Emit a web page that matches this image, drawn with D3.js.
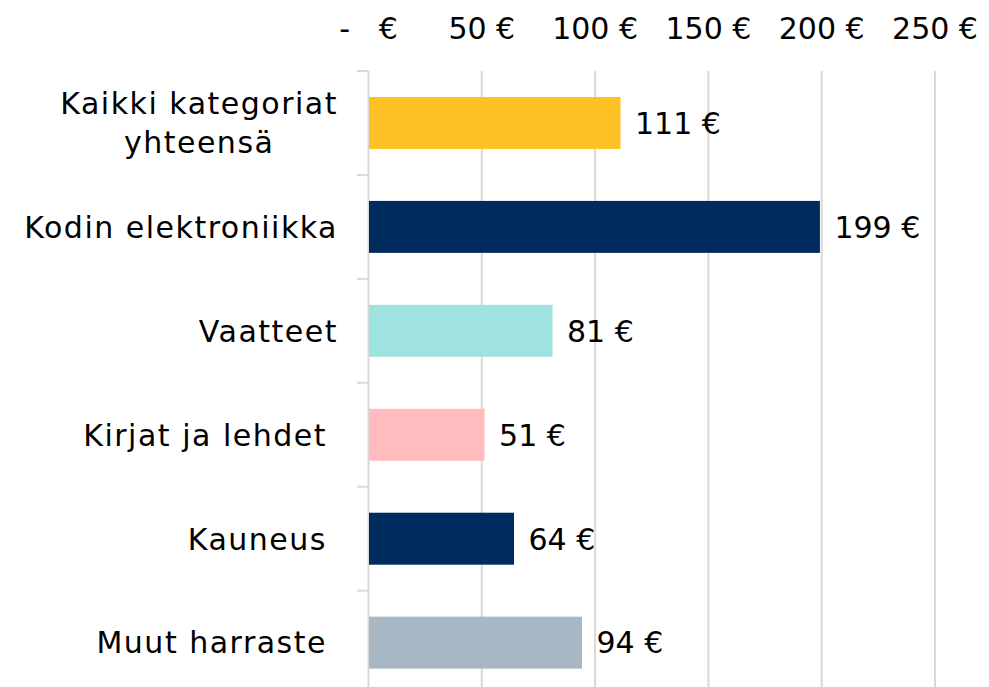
<!DOCTYPE html>
<html>
<head>
<meta charset="utf-8">
<script src="https://cdn.jsdelivr.net/npm/d3@7"></script>
<style>
  body { margin: 0; background: #fff; }
  text { font-family: "DejaVu Sans", sans-serif; fill: #000; }
</style>
</head>
<body>
<script>
var width = 989,
    height = 687,
    fontSize = 30;

// data
var categories = ["Kaikki kategoriat\nyhteensä", "Kodin elektroniikka", "Vaatteet", "Kirjat ja lehdet ", "Kauneus ", "Muut harraste "];
var values = [111, 199, 81, 51, 64, 94];
var barColors = ["#fec126", "#002b5f", "#9ee3df", "#ffbbbd", "#002b5f", "#a7b8c4"];
var ticks = [0, 50, 100, 150, 200, 250];

var x = d3.scaleLinear()
    .domain([0, 250])
    .range([368.5, 935]);

var y = d3.scaleBand()
    .domain(d3.range(categories.length))
    .range([71, 694.6])
    .paddingInner(0.5)
    .paddingOuter(0.25);

var svg = d3.select("body").append("svg")
    .attr("width", width)
    .attr("height", height);

// gridlines
svg.selectAll(".grid")
    .data(ticks)
    .enter().append("line")
    .attr("class", "grid")
    .attr("x1", function(d) { return x(d); })
    .attr("x2", function(d) { return x(d); })
    .attr("y1", 71)
    .attr("y2", height)
    .style("stroke", "#d9d9d9")
    .style("stroke-width", 2);

// top axis labels
svg.selectAll(".tick-label")
    .data(ticks)
    .enter().append("text")
    .attr("class", "tick-label")
    .attr("x", function(d) { return x(d); })
    .attr("y", 39)
    .attr("text-anchor", "middle")
    .style("font-size", fontSize + "px")
    .style("white-space", "pre")
    .text(function(d) { return d === 0 ? "-   €" : d + " €"; });

// left axis ticks at band edges
var edges = d3.range(categories.length).map(function(i) { return y(i) - y.step() * y.paddingInner() / 2; });
svg.selectAll(".ytick")
    .data(edges)
    .enter().append("line")
    .attr("class", "ytick")
    .attr("x1", 357)
    .attr("x2", x(0))
    .attr("y1", function(d) { return d; })
    .attr("y2", function(d) { return d; })
    .style("stroke", "#d9d9d9")
    .style("stroke-width", 2);

// bars
svg.selectAll(".bar")
    .data(values)
    .enter().append("rect")
    .attr("class", "bar")
    .attr("x", x(0) + 0.5)
    .attr("y", function(d, i) { return y(i); })
    .attr("width", function(d) { return x(d) - x(0); })
    .attr("height", y.bandwidth())
    .style("fill", function(d, i) { return barColors[i]; });

// value labels
svg.selectAll(".value")
    .data(values)
    .enter().append("text")
    .attr("class", "value")
    .attr("x", function(d) { return x(d) + 15; })
    .attr("y", function(d, i) { return y(i) + y.bandwidth() / 2; })
    .attr("dy", "0.36em")
    .style("font-size", fontSize + "px")
    .text(function(d) { return d + " €"; });

// category labels
var labelRight = 338,
    lineHeight = 39;
categories.forEach(function(c, i) {
    var lines = c.split("\n");
    var cy = y(i) + y.bandwidth() / 2;
    var t = svg.append("text")
        .style("font-size", fontSize + "px")
        .style("letter-spacing", "1.5px")
        .style("white-space", "pre")
        .attr("text-anchor", "middle");
    lines.forEach(function(l, j) {
        t.append("tspan")
            .attr("y", cy + (j - (lines.length - 1) / 2) * lineHeight)
            .attr("dy", "0.36em")
            .text(l);
    });
    var maxW = 0;
    t.selectAll("tspan").each(function() { maxW = Math.max(maxW, this.getComputedTextLength()); });
    t.selectAll("tspan").attr("x", labelRight - maxW / 2);
});
</script>
</body>
</html>
